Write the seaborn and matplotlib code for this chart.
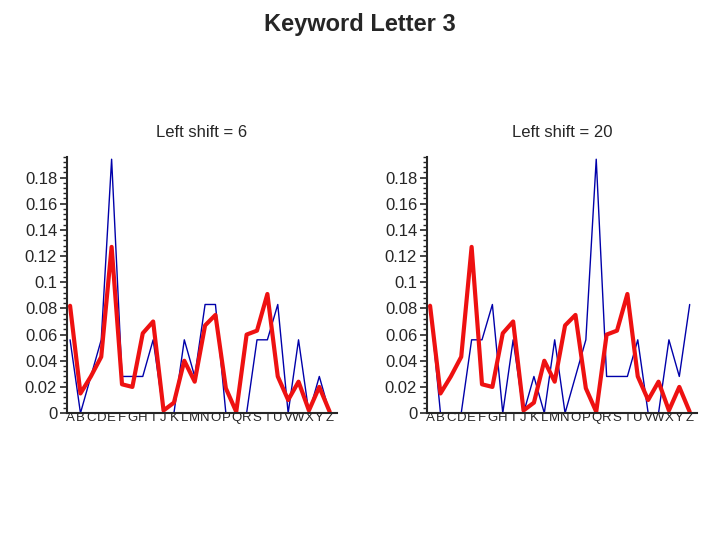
import numpy as np
import matplotlib
matplotlib.use("Agg")
import matplotlib.pyplot as plt
import seaborn as sns
from matplotlib.ticker import MultipleLocator

letters = list("ABCDEFGHIJKLMNOPQRSTUVWXYZ")

# English letter frequencies (red)
english = [0.082, 0.015, 0.028, 0.043, 0.127, 0.022, 0.020, 0.061, 0.070, 0.002,
           0.008, 0.040, 0.024, 0.067, 0.075, 0.019, 0.001, 0.060, 0.063, 0.091,
           0.028, 0.010, 0.024, 0.002, 0.020, 0.001]

# ciphertext frequencies (blue)
shift6 = [0.056, 0.0, 0.028, 0.056, 0.194, 0.028, 0.028, 0.028, 0.056, 0.0,
          0.0, 0.056, 0.028, 0.083, 0.083, 0.0, 0.0, 0.0, 0.056, 0.056,
          0.083, 0.0, 0.056, 0.0, 0.028, 0.0]
shift20 = [0.083, 0.0, 0.0, 0.0, 0.056, 0.056, 0.083, 0.0, 0.056, 0.0,
           0.028, 0.0, 0.056, 0.0, 0.028, 0.056, 0.194, 0.028, 0.028, 0.028,
           0.056, 0.0, 0.0, 0.056, 0.028, 0.083]

panels = [("Left shift = 6", shift6), ("Left shift = 20", shift20)]

sns.set_style("white")
plt.rcParams['font.family'] = ['Liberation Sans', 'DejaVu Sans']

fig = plt.figure(figsize=(7.2, 5.4), dpi=100)
fig.text(0.5, 0.955, "Keyword Letter 3", ha="center", va="center",
         fontsize=17, fontweight="bold")

lefts = [0.093, 0.593]
x = np.arange(26)
for (title, blue), left in zip(panels, lefts):
    ax = fig.add_axes([left, 0.235, 0.375, 0.475])
    sns.lineplot(x=x, y=blue, ax=ax, color="#0000aa", linewidth=1)
    sns.lineplot(x=x, y=english, ax=ax, color="#ee1111", linewidth=3)
    ax.set_xlim(-0.3, 25.7)
    ax.set_ylim(0, 0.196)
    ax.set_title(title, fontsize=12, pad=14)
    for s in ["top", "right"]:
        ax.spines[s].set_visible(False)
    ax.spines["left"].set_linewidth(1.5)
    ax.spines["bottom"].set_linewidth(1.5)
    ax.set_yticks([0, 0.02, 0.04, 0.06, 0.08, 0.1, 0.12, 0.14, 0.16, 0.18])
    ax.set_yticklabels(["0", "0.02", "0.04", "0.06", "0.08", "0.1", "0.12",
                        "0.14", "0.16", "0.18"], fontsize=12)
    ax.yaxis.set_minor_locator(MultipleLocator(0.004))
    ax.tick_params(axis="y", which="major", left=True, length=5, width=1.2, pad=2)
    ax.tick_params(axis="y", which="minor", left=True, length=3, width=1)
    ax.set_xticks(x)
    ax.set_xticklabels(letters, fontsize=9.5)
    ax.tick_params(axis="x", length=0, pad=-1)
    ax.set_xlabel("")
    ax.set_ylabel("")

fig.savefig("out.png", dpi=100)
